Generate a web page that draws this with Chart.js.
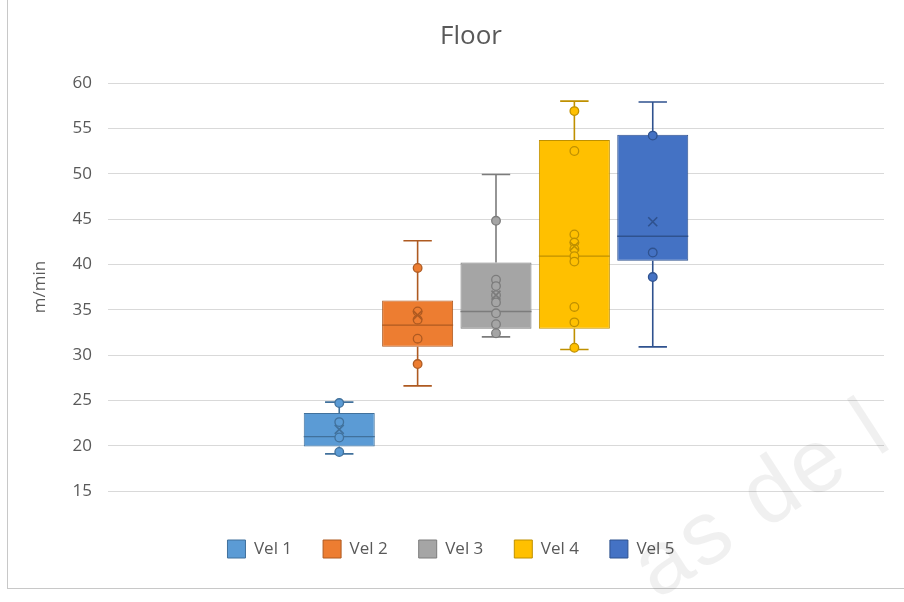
<!DOCTYPE html>
<html>
<head>
<meta charset="utf-8">
<script src="https://cdn.jsdelivr.net/npm/chart.js@4.4.1/dist/chart.umd.min.js"></script>
<style>
  html, body { margin: 0; padding: 0; background: #ffffff; }
  #wrap { position: relative; width: 904px; height: 602px; overflow: hidden; }
  #frame { position: absolute; left: 7px; top: -2px; width: 960px; height: 590px;
           border-left: 1px solid #c8c8c8; border-bottom: 1px solid #c8c8c8; pointer-events: none; }
  #mark { position: absolute; left: 668px; top: 515px; font: 90px "Liberation Sans", sans-serif;
          color: rgba(0,0,0,0.06); transform: rotate(-33deg); transform-origin: left bottom;
          white-space: nowrap; pointer-events: none; letter-spacing: 3px; }
</style>
</head>
<body>
<div id="wrap">
  <canvas id="c" width="904" height="602"></canvas>
  <div id="frame"></div>
  <div id="mark">as de l</div>
</div>
<script>
// Speed samples per setting (m/min)
const seriesNames = ['Vel 1', 'Vel 2', 'Vel 3', 'Vel 4', 'Vel 5'];
const whiskerMin  = [19.1, 26.6, 32.0, 30.6, 30.9];
const quartile1   = [19.9, 30.9, 32.9, 32.9, 40.4];
const medians     = [21.0, 33.3, 34.8, 40.9, 43.1];
const quartile3   = [23.6, 36.0, 40.2, 53.7, 54.3];
const whiskerMax  = [24.8, 42.6, 49.9, 58.0, 57.9];
const means       = [21.8, 34.4, 36.6, 42.0, 44.7];
const pointsVel1  = [24.7, 22.6, 20.9, 19.3];
const pointsVel2  = [39.6, 34.8, 33.9, 31.8, 29.0];
const pointsVel3  = [44.8, 38.3, 37.6, 36.6, 35.8, 34.6, 33.4, 32.4];
const pointsVel4  = [56.9, 52.5, 43.3, 42.4, 41.7, 40.9, 40.3, 35.3, 33.6, 30.8];
const pointsVel5  = [54.2, 41.3, 38.6];
const yTicks      = [15, 20, 25, 30, 35, 40, 45, 50, 55, 60];
const chartTitle  = 'Floor';

const allPoints = [pointsVel1, pointsVel2, pointsVel3, pointsVel4, pointsVel5];
const fills  = ['#5B9BD5', '#ED7D31', '#A5A5A5', '#FFC000', '#4472C4'];
const lines  = ['#41719C', '#AE5A21', '#7C7C7C', '#BF9000', '#2F528F'];
const FONT = '"Open Sans", "Liberation Sans", sans-serif';
const TEXT = '#595959';

// Title centred on the whole chart frame rather than the padded layout box
const frameTitlePlugin = {
  id: 'frameTitle',
  afterDraw(chart) {
    const ctx = chart.ctx;
    ctx.save();
    ctx.fillStyle = TEXT;
    ctx.font = '26px ' + FONT;
    ctx.textAlign = 'center';
    ctx.textBaseline = 'middle';
    ctx.fillText(chartTitle, 471, 37);
    ctx.restore();
  }
};

// Whiskers, medians, means and data points on top of the floating-bar boxes
const boxWhiskerPlugin = {
  id: 'boxWhisker',
  afterDatasetsDraw(chart) {
    const ctx = chart.ctx;
    const y = chart.scales.y;
    chart.data.datasets.forEach((ds, i) => {
      const bar = chart.getDatasetMeta(i).data[0];
      if (!bar) return;
      const cx = bar.x, w = bar.width;
      const capHalf = w * 0.2;
      const yMin = y.getPixelForValue(whiskerMin[i]);
      const yMax = y.getPixelForValue(whiskerMax[i]);
      const yQ1 = y.getPixelForValue(quartile1[i]);
      const yQ3 = y.getPixelForValue(quartile3[i]);
      const yMed = y.getPixelForValue(medians[i]);
      ctx.save();
      ctx.strokeStyle = lines[i];
      ctx.lineWidth = 1.6;
      ctx.beginPath();
      ctx.moveTo(cx, yQ3); ctx.lineTo(cx, yMax);
      ctx.moveTo(cx - capHalf, yMax); ctx.lineTo(cx + capHalf, yMax);
      ctx.moveTo(cx, yQ1); ctx.lineTo(cx, yMin);
      ctx.moveTo(cx - capHalf, yMin); ctx.lineTo(cx + capHalf, yMin);
      ctx.stroke();
      ctx.lineWidth = 1.4;
      ctx.beginPath();
      ctx.moveTo(cx - w / 2, yMed); ctx.lineTo(cx + w / 2, yMed);
      ctx.stroke();
      // data points
      ctx.fillStyle = fills[i];
      ctx.lineWidth = 1.3;
      allPoints[i].forEach(v => {
        const py = y.getPixelForValue(v);
        ctx.beginPath();
        ctx.arc(cx, py, 4.3, 0, Math.PI * 2);
        ctx.fill();
        ctx.stroke();
      });
      // mean marker
      const ym = y.getPixelForValue(means[i]);
      ctx.lineWidth = 1.6;
      ctx.beginPath();
      ctx.moveTo(cx - 4.5, ym - 4.5); ctx.lineTo(cx + 4.5, ym + 4.5);
      ctx.moveTo(cx + 4.5, ym - 4.5); ctx.lineTo(cx - 4.5, ym + 4.5);
      ctx.stroke();
      ctx.restore();
    });
  }
};

const datasets = seriesNames.map((name, i) => ({
  label: name,
  data: [[quartile1[i], quartile3[i]]],
  backgroundColor: fills[i],
  borderColor: lines[i],
  borderWidth: 1,
  borderSkipped: false,
  categoryPercentage: 0.505,
  barPercentage: 0.906
}));

new Chart(document.getElementById('c'), {
  type: 'bar',
  data: { labels: [''], datasets },
  options: {
    responsive: false,
    animation: false,
    devicePixelRatio: 1,
    layout: { padding: { left: 18, right: 20, top: 83, bottom: 34 } },
    plugins: {
      title: { display: false },
      legend: {
        position: 'bottom',
        labels: {
          color: TEXT,
          font: { family: FONT, size: 17 },
          boxWidth: 18,
          boxHeight: 18,
          padding: 31
        }
      },
      tooltip: { enabled: false }
    },
    scales: {
      x: {
        type: 'category',
        ticks: { display: false },
        grid: { display: false },
        border: { display: false },
        afterFit(scale) { scale.height = 18; }
      },
      y: {
        min: 15,
        max: 60,
        afterBuildTicks(scale) { scale.ticks = yTicks.map(v => ({ value: v })); },
        ticks: { color: TEXT, font: { family: FONT, size: 17 }, padding: 16 },
        grid: { color: '#d9d9d9', drawTicks: false, lineWidth: 1 },
        border: { display: false },
        title: {
          display: true,
          text: 'm/min',
          color: TEXT,
          font: { family: FONT, size: 17 },
          padding: { top: 12, bottom: 0 }
        },
        afterFit(scale) { scale.width = 90; }
      }
    }
  },
  plugins: [boxWhiskerPlugin, frameTitlePlugin]
});
</script>
</body>
</html>
